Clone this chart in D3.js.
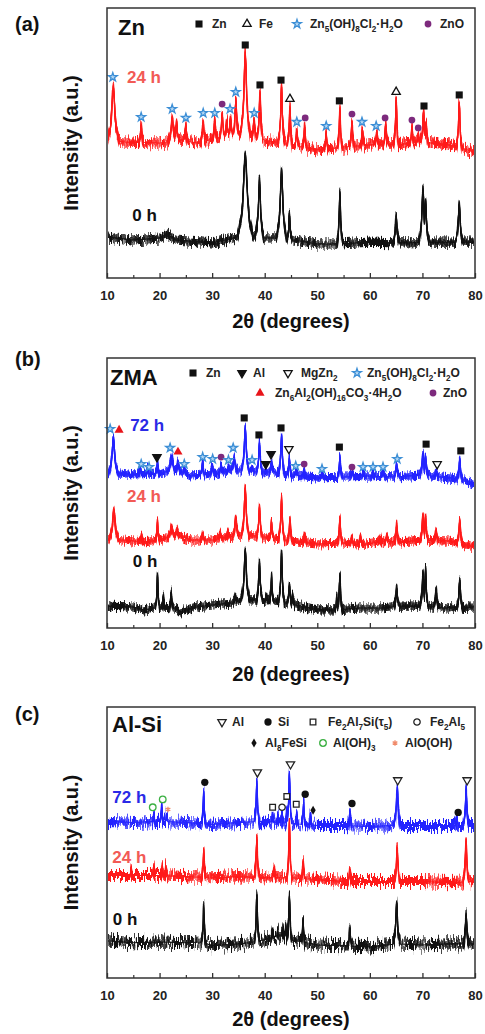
<!DOCTYPE html>
<html>
<head>
<meta charset="utf-8">
<script src="https://cdn.jsdelivr.net/npm/d3@7"></script>
<style>
body { margin: 0; background: #fff; }
svg text { font-family: "Liberation Sans", Arial, sans-serif; font-weight: bold; }
</style>
</head>
<body>
<script>
// ---- data (2theta in degrees, intensity in a.u. 0-100 per panel) ----
const tickLabels = [10, 20, 30, 40, 50, 60, 70, 80];
const minorTicks = [15, 25, 35, 45, 55, 65, 75];
const panelLabels = ["(a)", "(b)", "(c)"];
const sampleNames = ["Zn", "ZMA", "Al-Si"];

// baselines [2θ, I]
const aBase0 = [[10,15.2],[15,14.1],[20,14.8],[21.5,16.3],[23,14.1],[30,13],[34,14.8],[35.5,15.6],[38,15.6],[40,14.8],[42,14.8],[45.5,14.1],[50,12.6],[54,12.6],[60,13.3],[66,13],[72,13.3],[80,13.3]];
const aBase24 = [[10,51.1],[13,50.4],[20,50],[24,51.1],[27,50],[31,51.9],[35,53],[37,53],[40,51.1],[45,49.3],[50,47.4],[55,48.5],[60,49.3],[65,49.3],[70,50.4],[75,49.3],[80,46.7]];
const bBase0 = [[10,8.1],[15,7.8],[17,6.7],[20,7.8],[23,7.4],[24,5.9],[27,7.8],[30,8.5],[34,9.3],[35.5,10.4],[38,10.4],[42,10],[46,8.5],[50,6.7],[54,6.7],[58,7.4],[62,7.4],[66,8.1],[70,8.1],[74,7.4],[80,7.8]];
const bBase24 = [[10,32.6],[13,32.6],[17,31.9],[20,32.6],[21,33.3],[24,34.1],[26,32.6],[30,32.6],[33,33.7],[35,34.4],[38,34.1],[42,33.3],[46,31.9],[50,31.1],[55,31.5],[58,30.7],[62,31.9],[66,31.9],[70,32.6],[75,32.2],[80,30]];
const bBase72 = [[10,56.7],[12.5,57.4],[15,56.7],[20,57],[21,57.8],[24,57.8],[26,56.3],[30,57],[34,58.5],[36,58.5],[38,57.8],[42,57.8],[45,56.3],[50,55.6],[55,55.9],[60,56.3],[65,55.9],[70,56.7],[75,55.6],[78,54.8],[80,53]];
const cBase0 = [[10,13.7],[15,13],[20,13.3],[25,13],[28,13.3],[30,11.9],[35,12.6],[37,13],[40,14.1],[43,15.9],[45,14.1],[50,12.2],[55,11.9],[60,11.5],[65,12.6],[70,12.2],[75,12.6],[80,12.6]];
const cBase24 = [[10,37.8],[20,37.8],[25,37.4],[30,37],[35,37.4],[40,37],[45,37],[50,36.3],[55,35.6],[60,35.6],[65,35.6],[70,35.6],[75,35.2],[80,35.6]];
const cBase72 = [[10,57.8],[15,57.4],[20,57.8],[25,57.4],[30,56.7],[35,57.4],[40,57.8],[45,57],[50,56.3],[55,56.3],[60,55.9],[65,56.3],[70,56.3],[75,56.3],[80,56.3]];

// peaks [2θ, top intensity, width]
const aPeaks0 = [[36.3,46.3,0.9],[39.0,36.3,0.5],[43.2,40.4,0.6],[44.7,23.3,0.3],[54.3,31.5,0.35],[65.0,23,0.4],[70.1,32.6,0.5],[70.6,28.9,0.4],[77.0,27.4,0.45]];
const aPeaks24 = [[11.2,71.1,0.7],[16.5,56.7,0.3],[22.4,59.3,0.5],[23.2,56.7,0.4],[25.0,55.6,0.3],[28.3,57.8,0.35],[30.5,57.8,0.35],[31.9,61.1,0.35],[32.8,58.5,0.3],[33.5,59.3,0.35],[34.5,65.9,0.4],[36.3,83.7,0.6],[38.0,58.1,0.3],[39.1,68.9,0.35],[43.2,70.7,0.4],[44.8,63.3,0.3],[46.1,54.8,0.3],[47.6,55.9,0.3],[51.7,53.3,0.3],[54.3,63.0,0.3],[56.6,57.8,0.3],[58.6,54.8,0.3],[61.3,53.7,0.3],[63.0,56.7,0.3],[65.0,66.7,0.3],[68.0,55.9,0.3],[69.2,53.7,0.3],[70.2,61.5,0.35],[70.7,57.8,0.3],[77.0,65.2,0.35]];
const bPeaks0 = [[19.6,19.6,0.25],[20.7,11.5,0.2],[22.2,13.3,0.25],[34.4,12.2,0.3],[36.3,28.9,0.5],[39.0,24.4,0.35],[40.3,12.2,0.25],[41.3,18.9,0.25],[43.2,27.8,0.35],[44.7,15.9,0.3],[45.3,12.2,0.25],[53.7,11.5,0.2],[54.3,19.6,0.3],[65.1,14.8,0.35],[70.1,20.7,0.35],[70.6,22.2,0.3],[72.6,14.8,0.3],[77.1,17.8,0.35]];
const bPeaks24 = [[11.3,43.7,0.6],[16.6,34.4,0.25],[19.6,39.3,0.25],[22.3,37.8,0.5],[23.3,36.3,0.4],[28.2,34.8,0.3],[31.5,35.2,0.3],[33.0,35.6,0.3],[34.5,40.7,0.4],[36.3,51.9,0.45],[39.0,44.8,0.35],[41.3,39.3,0.25],[43.2,48.1,0.35],[44.8,40,0.3],[47.6,34.8,0.3],[54.3,40.7,0.3],[56.6,33.7,0.3],[58.2,34.1,0.3],[62.0,33.7,0.3],[63.2,34.1,0.3],[65.1,38.1,0.3],[70.1,41.9,0.35],[70.6,41.5,0.3],[72.6,36.3,0.3],[77.1,40,0.35]];
const bPeaks72 = [[11.2,70.7,0.6],[16.3,60,0.3],[17.7,59.3,0.3],[19.6,61.1,0.25],[22.3,63.7,0.6],[23.5,61.5,0.4],[24.7,59.3,0.3],[28.2,61.5,0.3],[30.0,60,0.3],[31.7,60.4,0.3],[33.1,60,0.3],[34.2,63,0.4],[36.3,74.1,0.45],[37.6,59.3,0.3],[39.0,68.5,0.35],[40.2,58.5,0.25],[41.3,61.5,0.3],[43.2,71.1,0.35],[44.7,63,0.3],[46.0,58.5,0.3],[47.5,58.5,0.3],[51.0,57.4,0.3],[54.3,63.3,0.3],[56.6,58.1,0.3],[58.7,57.8,0.3],[60.6,57.8,0.3],[62.5,57.8,0.3],[65.1,60.7,0.3],[70.1,64.8,0.35],[70.6,63.7,0.3],[72.6,58.5,0.3],[77.1,62.2,0.35]];
const cPeaks0 = [[28.4,26.7,0.25],[38.5,30.7,0.3],[41.5,17.8,0.2],[42.5,17,0.2],[43.5,18.5,0.2],[44.0,19.3,0.2],[44.7,30,0.3],[47.3,21.5,0.25],[56.2,18.5,0.25],[65.1,28.1,0.4],[78.3,23.3,0.35]];
const cPeaks24 = [[14.6,40,0.15],[18.9,41.1,0.2],[20.5,41.5,0.2],[21.2,41.1,0.2],[28.4,47.4,0.25],[38.5,51.9,0.3],[41.8,40.7,0.2],[44.7,57.4,0.3],[47.3,43,0.25],[56.2,40,0.25],[65.2,48.1,0.35],[78.3,51.1,0.35]];
const cPeaks72 = [[18.9,60.4,0.2],[20.4,63,0.2],[21.3,60.4,0.2],[28.4,68.9,0.25],[38.5,72.6,0.3],[41.5,60.4,0.2],[42.5,59.3,0.2],[43.3,60.7,0.2],[44.2,61.5,0.2],[44.7,75.2,0.3],[46.1,60.4,0.2],[47.4,64.8,0.25],[48.7,60.4,0.2],[56.2,61.5,0.25],[65.2,70.4,0.4],[76.5,59.3,0.25],[78.3,69.6,0.35]];

// phase markers [2θ, intensity, phase]
const aMarks = [[11.1,74.4,"Zn5"],[16.5,59.6,"Zn5"],[22.4,62.6,"Zn5"],[25.0,59.3,"Zn5"],[28.3,61.1,"Zn5"],[30.5,61.1,"Zn5"],[31.9,64.4,"ZnO"],[33.4,62.6,"Zn5"],[34.5,68.9,"Zn5"],[36.3,86.3,"Zn"],[38.0,61.1,"Zn5"],[39.1,71.5,"Zn"],[43.1,73.3,"Zn"],[44.8,66.3,"Fe"],[46.1,57.8,"Zn5"],[47.7,59.3,"ZnO"],[51.7,56.3,"Zn5"],[54.2,65.6,"Zn"],[56.6,60.7,"ZnO"],[58.5,57.8,"Zn5"],[61.2,56.3,"Zn5"],[62.9,59.3,"ZnO"],[65.0,68.9,"Fe"],[68.0,58.5,"ZnO"],[69.2,55.6,"ZnO"],[70.3,63.7,"Zn"],[77.0,67.8,"Zn"]];
const bMarks = [[10.6,73.7,"Zn5"],[12.3,73.3,"LDH"],[16.5,60.7,"Zn5"],[18.0,59.6,"Zn5"],[19.5,63.3,"Al"],[22.0,66.7,"Zn5"],[23.5,65.2,"LDH"],[24.7,60.7,"Zn5"],[28.2,63.3,"Zn5"],[30.1,62.6,"Zn5"],[31.7,63.3,"ZnO"],[33.1,62.2,"Zn5"],[34.0,66.7,"Zn5"],[36.1,77.8,"Zn"],[37.6,62.2,"Zn5"],[38.9,71.5,"Zn"],[40.2,60.7,"Al"],[41.2,64.4,"Al"],[43.1,74.1,"Zn"],[44.6,66.3,"MgZn2"],[45.9,60,"Zn5"],[47.5,60.7,"ZnO"],[50.9,58.9,"Zn5"],[54.2,67,"Zn"],[56.6,59.6,"ZnO"],[58.7,59.6,"Zn5"],[60.6,59.6,"Zn5"],[62.5,59.6,"Zn5"],[65.2,62.6,"Zn5"],[70.7,68.1,"Zn"],[72.8,60.7,"MgZn2"],[77.3,65.6,"Zn"]];
const cMarks = [[18.7,63,"AlOH3"],[20.6,65.9,"AlOH3"],[21.6,62.2,"AlOOH"],[28.6,72.2,"Si"],[38.6,75.9,"AlC"],[41.5,63,"tau5"],[43.3,63,"Fe2Al5"],[44.2,67,"tau5"],[44.9,78.9,"AlC"],[46.0,64.1,"tau5"],[47.7,67.8,"Si"],[49.2,61.9,"Al8FeSi"],[56.6,64.4,"Si"],[65.3,73,"AlC"],[76.8,61.1,"Si"],[78.5,73,"AlC"]];

// legends [phase, label] ({} = subscript)
const aLegend = [["Zn","Zn"],["Fe","Fe"],["Zn5","Zn{5}(OH){8}Cl{2}·H{2}O"],["ZnO","ZnO"]];
const bLegend1 = [["Zn","Zn"],["Al","Al"],["MgZn2","MgZn{2}"],["Zn5","Zn{5}(OH){8}Cl{2}·H{2}O"]];
const bLegend2 = [["LDH","Zn{6}Al{2}(OH){16}CO{3}·4H{2}O"],["ZnO","ZnO"]];
const cLegend1 = [["AlC","Al"],["Si","Si"],["tau5","Fe{2}Al{7}Si(τ{5})"],["Fe2Al5","Fe{2}Al{5}"]];
const cLegend2 = [["Al8FeSi","Al{8}FeSi"],["AlOH3","Al(OH){3}"],["AlOOH","AlO(OH)"]];

// ---- layout ----
const W = 485, H = 1034;
const left = 107, right = 475;
const panels = [{top: 8, bottom: 278}, {top: 358, bottom: 628}, {top: 707, bottom: 978}];

const svg = d3.select("body").append("svg").attr("width", W).attr("height", H);
const defs = svg.append("defs");
const x = d3.scaleLinear().domain([10, 80]).range([left, right]);

// noise texture for the scans (styling only)
function noiseFilter(id, seed, amp, p) {
  const f = defs.append("filter").attr("id", id)
    .attr("filterUnits", "userSpaceOnUse")
    .attr("x", left + 1).attr("y", p.top + 1).attr("width", right - left - 2).attr("height", p.bottom - p.top - 2)
    .attr("color-interpolation-filters", "sRGB");
  [0, 1, 2].forEach(k => {
    f.append("feTurbulence").attr("type", "fractalNoise").attr("baseFrequency", "1.3 0.06")
      .attr("numOctaves", 1).attr("seed", seed + k * 37).attr("result", "t" + k);
    f.append("feColorMatrix").attr("in", "t" + k).attr("type", "matrix")
      .attr("values", "0 0 0 0 0.5  0 3 0 0 -1  0 0 0 0 0  0 0 0 0 1").attr("result", "m" + k);
    f.append("feDisplacementMap").attr("in", "SourceGraphic").attr("in2", "m" + k).attr("scale", amp * (1 - k * 0.25))
      .attr("xChannelSelector", "R").attr("yChannelSelector", "G").attr("result", "d" + k);
    f.append("feMorphology").attr("in", "d" + k).attr("operator", "dilate").attr("radius", "0 1.5").attr("result", "dd" + k);
  });
  const mg = f.append("feMerge");
  ["dd0", "dd1", "dd2", "SourceGraphic"].forEach(n => mg.append("feMergeNode").attr("in", n));
}

const tplX = [-1.6, -0.8, -0.5, -0.2, 0, 0.2, 0.5, 0.8, 1.6];
const tplF = [0, 0.23, 0.44, 0.84, 1, 0.84, 0.44, 0.23, 0];
const shape = d3.scaleLinear().domain(tplX).range(tplF).clamp(true);

function buildTrace(base, peaks) {
  const bs = d3.scaleLinear().domain(base.map(d => d[0])).range(base.map(d => d[1])).clamp(true);
  const xs = new Set(base.map(d => d[0]));
  peaks.forEach(p => tplX.forEach(t => xs.add(+(p[0] + t * p[2]).toFixed(3))));
  return Array.from(xs).filter(v => v >= 10 && v <= 80).sort((a, b) => a - b).map(v => {
    let yv = bs(v);
    peaks.forEach(p => {
      const t = (v - p[0]) / p[2];
      if (Math.abs(t) < 1.6) yv = Math.max(yv, bs(v) + (p[1] - bs(p[0])) * shape(t));
    });
    return [v, yv];
  });
}

const phaseStyle = {
  Zn:      {sym: d3.symbolSquare,   size: 50, fill: "#111", stroke: "none"},
  Fe:      {sym: d3.symbolTriangle, size: 30, fill: "#fff", stroke: "#111"},
  Zn5:     {sym: d3.symbolStar,     size: 24, fill: "#b5d8f4", stroke: "#3d8fd6"},
  ZnO:     {sym: d3.symbolCircle,   size: 36, fill: "#7d2a7d", stroke: "none"},
  Al:      {sym: d3.symbolTriangle, size: 30, fill: "#111", stroke: "#111", rot: 180},
  MgZn2:   {sym: d3.symbolTriangle, size: 30, fill: "#fff", stroke: "#111", rot: 180},
  LDH:     {sym: d3.symbolTriangle, size: 36, fill: "#e8141a", stroke: "none"},
  AlC:     {sym: d3.symbolTriangle, size: 30, fill: "#fff", stroke: "#222", rot: 180},
  Si:      {sym: d3.symbolCircle,   size: 42, fill: "#111", stroke: "none"},
  tau5:    {sym: d3.symbolSquare,   size: 32, fill: "#fff", stroke: "#222"},
  Fe2Al5:  {sym: d3.symbolCircle,   size: 32, fill: "#fff", stroke: "#222"},
  Al8FeSi: {sym: d3.symbolDiamond,  size: 24, fill: "#111", stroke: "none"},
  AlOH3:   {sym: d3.symbolCircle,   size: 34, fill: "#fff", stroke: "#3cb043"},
  AlOOH:   {sym: d3.symbolAsterisk, size: 20, fill: "none", stroke: "#f08a6a"}
};

function drawMarker(g, phase, cx, cy) {
  const s = phaseStyle[phase];
  g.append("path")
    .attr("d", d3.symbol(s.sym, s.size)())
    .attr("transform", `translate(${cx},${cy})` + (s.rot ? ` rotate(${s.rot})` : ""))
    .attr("fill", s.fill).attr("stroke", s.stroke).attr("stroke-width", s.stroke === "none" ? 0 : 1.3);
}

function richText(t, str, fs) {
  let off = 0;
  str.split(/(\{[^}]*\})/).filter(s => s).forEach(s => {
    const sub = s[0] === "{";
    const target = sub ? fs * 0.3 : 0;
    t.append("tspan").attr("dy", target - off).attr("font-size", sub ? fs * 0.68 : fs)
      .text(sub ? s.slice(1, -1) : s);
    off = target;
  });
}

function drawLegend(g, items, pos, y) {
  items.forEach((it, i) => {
    drawMarker(g, it[0], pos[i][0], y);
    const t = g.append("text").attr("x", pos[i][1]).attr("y", y + 4.2).attr("fill", "#222").attr("font-size", 12);
    richText(t, it[1], 12);
  });
}

const traces = [
  [{base: aBase0, peaks: aPeaks0, color: "#111", seed: 3, amp: 9, label: "0 h", lc: "#111", lx: 14.8, ly: 21.1},
   {base: aBase24, peaks: aPeaks24, color: "#ff1a1a", seed: 7, amp: 11, label: "24 h", lc: "#f25a55", lx: 13.8, ly: 72.2}],
  [{base: bBase0, peaks: bPeaks0, color: "#111", seed: 11, amp: 8, label: "0 h", lc: "#111", lx: 14.9, ly: 22.6},
   {base: bBase24, peaks: bPeaks24, color: "#ff1a1a", seed: 13, amp: 7, label: "24 h", lc: "#f25a55", lx: 13.8, ly: 46.7},
   {base: bBase72, peaks: bPeaks72, color: "#2323ff", seed: 17, amp: 7, label: "72 h", lc: "#2a2ae6", lx: 14.4, ly: 73}],
  [{base: cBase0, peaks: cPeaks0, color: "#111", seed: 19, amp: 14, label: "0 h", lc: "#111", lx: 11.1, ly: 19.6},
   {base: cBase24, peaks: cPeaks24, color: "#ff1a1a", seed: 23, amp: 12, label: "24 h", lc: "#f25a55", lx: 11.0, ly: 42.6},
   {base: cBase72, peaks: cPeaks72, color: "#2323ff", seed: 29, amp: 12, label: "72 h", lc: "#2a2ae6", lx: 11.0, ly: 64.4}]
];
const marks = [aMarks, bMarks, cMarks];
const nameX = [118, 110, 112];
const nameY = [35, 385, 732];
const panelLabelY = [31, 366, 721];
const titleY = [328, 681, 1026];
const legends = [
  [[aLegend, [[199, 212], [247, 259], [297, 310], [428, 440]], 24]],
  [[bLegend1, [[193, 206], [242, 253], [288, 301], [357, 367]], 373],
   [bLegend2, [[260, 275], [433, 443]], 393]],
  [[cLegend1, [[222, 232], [268, 278], [313, 328], [417, 430]], 722],
   [cLegend2, [[254, 265], [323, 333], [395, 405]], 743]]
];

panels.forEach((p, pi) => {
  const y = d3.scaleLinear().domain([0, 100]).range([p.bottom, p.top]);
  const g = svg.append("g");

  // scans
  traces[pi].forEach((tr, ti) => {
    const fid = `noise${pi}${ti}`;
    noiseFilter(fid, tr.seed, tr.amp, p);
    g.append("path")
      .datum(buildTrace(tr.base, tr.peaks))
      .attr("fill", "none").attr("stroke", tr.color).attr("stroke-width", 1.1)
      .attr("stroke-linejoin", "round")
      .attr("filter", `url(#${fid})`)
      .attr("d", d3.line().x(d => x(d[0])).y(d => y(d[1])));
    g.append("text").attr("x", x(tr.lx)).attr("y", y(tr.ly))
      .attr("fill", tr.lc).attr("font-size", 17).text(tr.label);
  });

  // phase markers
  marks[pi].forEach(m => drawMarker(g, m[2], x(m[0]), y(m[1])));

  // axes
  g.append("g").attr("transform", `translate(0,${p.bottom})`)
    .call(d3.axisBottom(x).tickValues(tickLabels).tickSize(-5).tickPadding(13).tickFormat(d3.format("d")))
    .call(a => a.select(".domain").remove())
    .call(a => a.selectAll("text").attr("font-size", 13).attr("fill", "#222")
      .attr("font-family", "Liberation Sans, Arial, sans-serif").attr("font-weight", "bold"))
    .call(a => a.selectAll("line").attr("stroke", "#333").attr("stroke-width", 1.3));
  g.append("g").attr("transform", `translate(0,${p.bottom})`)
    .call(d3.axisBottom(x).tickValues(minorTicks).tickSize(-3).tickFormat(""))
    .call(a => a.select(".domain").remove())
    .call(a => a.selectAll("line").attr("stroke", "#333").attr("stroke-width", 1.2));
  g.append("rect").attr("x", left).attr("y", p.top).attr("width", right - left).attr("height", p.bottom - p.top)
    .attr("fill", "none").attr("stroke", "#333").attr("stroke-width", 1.5);

  // texts
  g.append("text").attr("x", (left + right) / 2).attr("y", titleY[pi]).attr("text-anchor", "middle")
    .attr("font-size", 20).attr("fill", "#111").text("2θ (degrees)");
  g.append("text").attr("transform", `translate(78,${(p.top + p.bottom) / 2}) rotate(-90)`)
    .attr("text-anchor", "middle").attr("font-size", 20).attr("fill", "#111").text("Intensity (a.u.)");
  g.append("text").attr("x", 15).attr("y", panelLabelY[pi]).attr("font-size", 20).attr("fill", "#111").text(panelLabels[pi]);
  g.append("text").attr("x", nameX[pi]).attr("y", nameY[pi]).attr("font-size", 22).attr("fill", "#111").text(sampleNames[pi]);

  legends[pi].forEach(L => drawLegend(g, L[0], L[1], L[2]));
});
</script>
</body>
</html>
